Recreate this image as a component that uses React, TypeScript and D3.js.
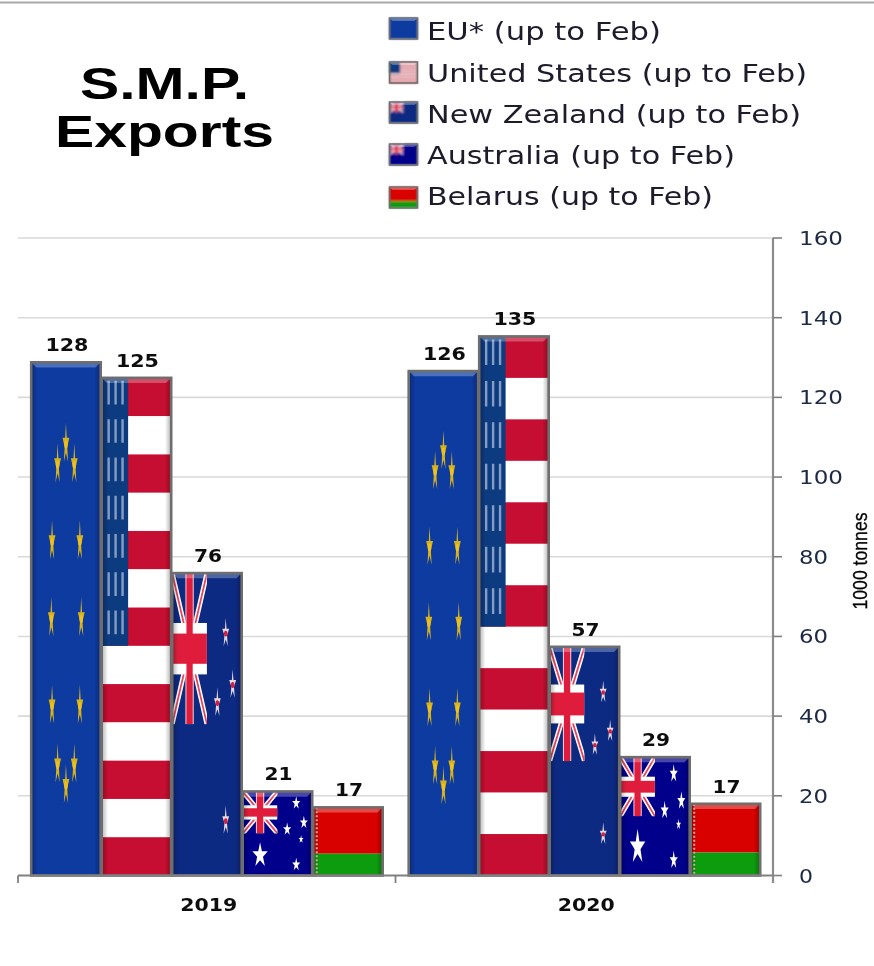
import React from "react";
import * as d3 from "d3";

const years = ["2019", "2020"];
const seriesNames = ["EU* (up to Feb)", "United States (up to Feb)", "New Zealand (up to Feb)", "Australia (up to Feb)", "Belarus (up to Feb)"];
const seriesKeys = ["eu", "us", "nz", "au", "by"];
const labels2019 = [128, 125, 76, 21, 17];
const labels2020 = [126, 135, 57, 29, 17];
const heights2019 = [128.8, 124.9, 75.9, 21.1, 17.1];
const heights2020 = [126.6, 135.3, 57.4, 29.7, 18];
const yTicks = [0, 20, 40, 60, 80, 100, 120, 140, 160];

const W = 874, H = 966;
const y = d3.scaleLinear().domain([0, 160]).range([875.5, 238]);
const xGroup = d3.scaleBand<string>().domain(years).range([18, 773]);
const xBar = d3.scaleBand<string>().domain(seriesKeys).range([13.2, 365.7]);

const DARK = "#111";
const star = d3.symbol().type(d3.symbolStar).size(3)() as string;

function Jack({ x, y: t, w, h, bg }: any) {
  const id = `c${Math.round(x)}_${Math.round(t)}_${Math.round(w)}`;
  const d = `M${x},${t}L${x + w},${t + h}M${x + w},${t}L${x},${t + h}`;
  return (
    <g>
      <clipPath id={id}><rect x={x} y={t} width={w} height={h} /></clipPath>
      <g clipPath={`url(#${id})`}>
        <rect x={x} y={t} width={w} height={h} fill={bg} />
        <path d={d} stroke="#fff" strokeWidth={w * 0.14} />
        <path d={d} stroke="#e8405a" strokeWidth={w * 0.05} />
        <rect x={x + w * 0.38} y={t} width={w * 0.24} height={h} fill="#f4c8d0" />
        <rect x={x} y={t + h * 0.33} width={w} height={h * 0.34} fill="#fff" />
        <rect x={x + w * 0.41} y={t} width={w * 0.18} height={h} fill="#e01f3d" />
        <rect x={x} y={t + h * 0.4} width={w} height={h * 0.2} fill="#e01f3d" />
      </g>
    </g>
  );
}

function Stars({ x, y: t, w, h, pts, fill, sx, sy, core }: any) {
  return (
    <g>
      {pts.map((p: number[], i: number) => (
        <g key={i} transform={`translate(${x + p[0] * w},${t + p[1] * h})`}>
          <path d={star} transform={`scale(${(p[2] ?? 1) * sx},${(p[2] ?? 1) * sy})`} fill={fill} />
          {core ? <ellipse rx={sx * 0.8} ry={sy * 0.3} fill={core} /> : null}
        </g>
      ))}
    </g>
  );
}

const euStars = [[0.5, 0.16], [0.38, 0.2], [0.62, 0.2], [0.3, 0.35], [0.7, 0.35], [0.29, 0.5], [0.72, 0.5], [0.3, 0.67], [0.7, 0.67], [0.38, 0.785], [0.62, 0.785], [0.5, 0.825]];
const nzStars = [[0.77, 0.2], [0.87, 0.37], [0.65, 0.43], [0.77, 0.82]];
const auStars = [[0.25, 0.76, 1.9], [0.77, 0.14], [0.88, 0.37], [0.64, 0.45], [0.84, 0.57, 0.6], [0.77, 0.87]];

function Flag({ k, x, y: t, w, h }: any) {
  const small = h < 30;
  if (k === "eu") {
    return (
      <g>
        <rect x={x} y={t} width={w} height={h} fill="#0a3aa0" />
        {small ? null : <Stars x={x} y={t} w={w} h={h} pts={euStars} fill="#d8b21e" sx={2.2} sy={h * 0.026} core="#eec01c" />}
      </g>
    );
  }
  if (k === "us") {
    const hs = h / 13;
    return (
      <g>
        {d3.range(13).map((i) => (
          <rect key={i} x={x} y={t + i * hs} width={w} height={hs + 0.2} fill={i % 2 ? "#fff" : "#c60c30"} />
        ))}
        <rect x={x} y={t} width={w * 0.38} height={hs * 7} fill="#0c3a80" />
        {small ? null : d3.range(3).map((c) => (
          <line key={c} x1={x + w * (0.1 + c * 0.1)} x2={x + w * (0.1 + c * 0.1)} y1={t + 3} y2={t + hs * 7}
            stroke="#b9c8e0" strokeWidth={2.4} strokeDasharray={`${hs * 0.62} ${hs * 0.38}`} opacity={0.7} />
        ))}
      </g>
    );
  }
  if (k === "nz") {
    return (
      <g>
        <rect x={x} y={t} width={w} height={h} fill="#0a2a82" />
        <Jack x={x} y={t} w={w * 0.5} h={h * 0.5} bg="#0a2a82" />
        {small ? null : <Stars x={x} y={t} w={w} h={h} pts={nzStars} fill="#e8d8e0" sx={2.2} sy={h * 0.032} core="#d81e3c" />}
      </g>
    );
  }
  if (k === "au") {
    return (
      <g>
        <rect x={x} y={t} width={w} height={h} fill="#00008b" />
        <Jack x={x} y={t} w={w * 0.5} h={h * 0.5} bg="#00008b" />
        {small ? null : <Stars x={x} y={t} w={w} h={h} pts={auStars} fill="#fff" sx={2.6} sy={h * 0.05} />}
      </g>
    );
  }
  return (
    <g>
      <rect x={x} y={t} width={w} height={h * 0.68} fill="#d90500" />
      <rect x={x} y={t + h * 0.68} width={w} height={h * 0.32} fill="#0a9c0a" />
      {small ? null : <line x1={x + 3.5} x2={x + 3.5} y1={t} y2={t + h} stroke="#f3c4c0" strokeWidth={2} strokeDasharray="2 2" />}
    </g>
  );
}

function Bevel({ x, y: t, w, h, b }: any) {
  const m = Math.max(b * 2, 2);
  return (
    <g>
      <rect x={x} y={t} width={w} height={h} fill="url(#edgeShade)" />
      <path d={`M${x},${t}L${x + w},${t}L${x + w - m},${t + m}L${x + m},${t + m}Z`} fill="#fff" opacity={0.28} />
      <rect x={x} y={t} width={w} height={h} fill="none" stroke="#6e6e6e" strokeWidth={b} />
    </g>
  );
}

function Txt({ x, y: yy, size, len, center = false, weight = "normal", family = "'DejaVu Sans'", fill = DARK, children }: any) {
  return (
    <text x={center ? x - len / 2 : x} y={yy} fontSize={size} fontWeight={weight} fontFamily={family} fill={fill}
      textLength={len} lengthAdjust="spacingAndGlyphs">
      {children}
    </text>
  );
}

const legendBaselines = [40, 82, 123, 164, 205];
const legendTops = [18, 62, 102, 144, 187];
const legendWidths = [234, 380, 374, 308, 286];
const tickWidths = [0, 14, 29, 44];
const labelWidths = [0, 14, 28, 43];

export default function App() {
  const rows = [labels2019, labels2020];
  const hts = [heights2019, heights2020];
  return (
    <svg width={W} height={H} viewBox={`0 0 ${W} ${H}`} style={{ position: "absolute", left: 0, top: 0, background: "#fff" }}>
      <defs>
        <filter id="soft" x="-2%" y="-2%" width="104%" height="104%">
          <feGaussianBlur stdDeviation="0.55" />
        </filter>
        <filter id="softer" x="-10%" y="-10%" width="120%" height="120%">
          <feGaussianBlur stdDeviation="1.1" />
        </filter>
        <linearGradient id="edgeShade" x1="0" x2="1" y1="0" y2="0">
          <stop offset="0" stopColor="#000" stopOpacity="0.3" />
          <stop offset="0.09" stopColor="#000" stopOpacity="0" />
          <stop offset="0.91" stopColor="#000" stopOpacity="0" />
          <stop offset="1" stopColor="#000" stopOpacity="0.3" />
        </linearGradient>
      </defs>
      <g filter="url(#soft)">
        <rect x={0} y={1.5} width={W} height={2} fill="#a8a8a8" />

        <Txt x={80} y={99} size={45} len={169} weight="bold" family="'Liberation Sans'" fill="#000">S.M.P.</Txt>
        <Txt x={55} y={147} size={45} len={219} weight="bold" family="'Liberation Sans'" fill="#000">Exports</Txt>

        {seriesNames.map((n, i) => (
          <g key={n}>
            <g filter="url(#softer)">
              <Flag k={seriesKeys[i]} x={389.5} y={legendTops[i]} w={28} h={21} />
            </g>
            <Bevel x={389.5} y={legendTops[i]} w={28} h={21} b={1.5} />
            <Txt x={427} y={legendBaselines[i]} size={24.5} len={legendWidths[i]} fill="#1a1a2a">{n}</Txt>
          </g>
        ))}

        {yTicks.slice(1).map((t) => (
          <line key={t} x1={18} x2={773} y1={y(t)} y2={y(t)} stroke="#d9d9d9" strokeWidth={1.6} />
        ))}

        {years.map((yr, gi) =>
          seriesKeys.map((k, i) => {
            const x0 = (xGroup(yr) as number) + (xBar(k) as number);
            const w = xBar.bandwidth() - 1;
            const top = y(hts[gi][i]);
            const h = y(0) - top;
            return (
              <g key={yr + k}>
                <Flag k={k} x={x0} y={top} w={w} h={h} />
                <Bevel x={x0} y={top} w={w} h={h} b={2.6} />
                <Txt x={x0 + w / 2 + 1} y={top - 11} size={18} center weight="bold"
                  len={labelWidths[String(rows[gi][i]).length]}>{rows[gi][i]}</Txt>
              </g>
            );
          })
        )}

        <line x1={18} x2={773} y1={y(0)} y2={y(0)} stroke="#808080" strokeWidth={1.8} />
        <line x1={773} x2={773} y1={y(160)} y2={883} stroke="#8c8c8c" strokeWidth={2.2} />
        {yTicks.map((t) => (
          <g key={t}>
            <line x1={773} x2={782} y1={y(t)} y2={y(t)} stroke="#808080" strokeWidth={1.6} />
            <Txt x={799} y={y(t) + 7} size={20} len={tickWidths[String(t).length]} fill="#1f2a44">{t}</Txt>
          </g>
        ))}
        {[18, 395.5].map((tx) => (
          <line key={tx} x1={tx} x2={tx} y1={y(0)} y2={883} stroke="#808080" strokeWidth={1.8} />
        ))}
        {years.map((yr) => (
          <Txt key={yr} x={(xGroup(yr) as number) + xGroup.bandwidth() / 2 + 2} y={911} size={18} center len={57} weight="bold">{yr}</Txt>
        ))}

        <text transform="translate(867,561) rotate(-90)" fontSize={21} fontFamily="'Liberation Sans'" textAnchor="middle"
          textLength={97} lengthAdjust="spacingAndGlyphs" fill="#000" stroke="#000" strokeWidth={0.3}>1000 tonnes</text>
      </g>
    </svg>
  );
}
